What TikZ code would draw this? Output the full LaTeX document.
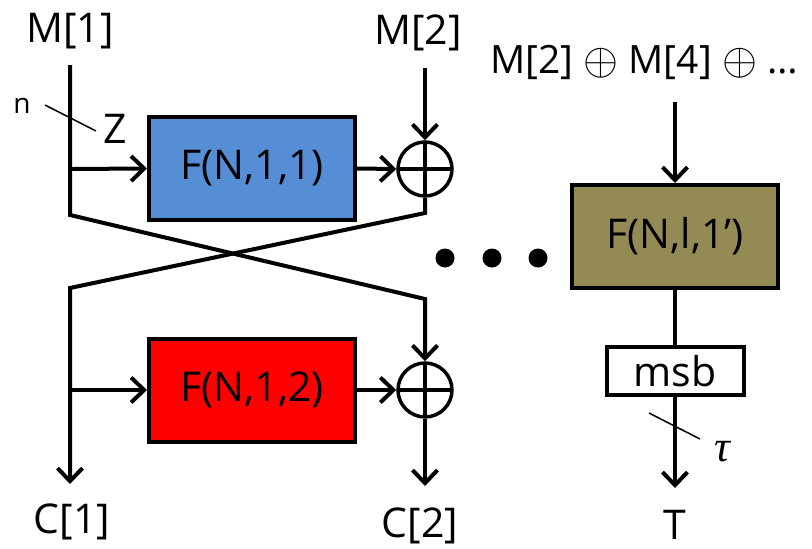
\documentclass[tikz,border=0pt]{standalone}
\usepackage{fontspec}
\usepackage{graphicx}
\setmainfont{Open Sans}
\newfontfamily\greekfont{Liberation Serif}
\usetikzlibrary{arrows.meta}
\newcommand\mybig{\fontsize{41}{48}\selectfont}
\newcommand\mymid{\fontsize{39}{46}\selectfont}
\newcommand\myxor{\raisebox{-1.5pt}{\scalebox{4.5}{\fontsize{10}{12}\selectfont$\oplus$}}}
\definecolor{fblue}{HTML}{558ED5}
\definecolor{fred}{HTML}{FF0000}
\definecolor{folive}{HTML}{948A54}
\begin{document}
\begin{tikzpicture}[x=1pt,y=-1pt,
  wire/.style={line width=4pt},
  arr/.style={wire,-{Straight Barb[length=13pt,width=25pt]}},
  fbox/.style={draw,line width=4pt,minimum width=206pt,minimum height=103pt,inner sep=0pt,font=\mybig},
  xorc/.style={circle,draw,line width=3.5pt,minimum size=54pt,inner sep=0pt,
    path picture={\draw[line width=3.5pt] (path picture bounding box.north)--(path picture bounding box.south)
      (path picture bounding box.west)--(path picture bounding box.east);}},
  lab/.style={inner sep=0pt,font=\mybig},
  slash/.style={line width=1.5pt},
  dot/.style={circle,fill,inner sep=0pt,minimum size=19pt}]
\useasboundingbox (0,0) rectangle (812,549);
% labels
\node[lab] (m1) at (70,31) {M[1]};
\node[lab] (m2) at (418,33) {M[2]};
\node[lab,font=\mymid] (m24) at (644,62) {M[2] \myxor{} M[4] \myxor{} \dots};
\node[lab] (c1) at (72,522) {C[1]};
\node[lab] (c2) at (420,526) {C[2]};
\node[lab] (t) at (675,525) {T};
\node[lab,font=\fontsize{28}{32}\selectfont] (n) at (22,106) {n};
\node[lab] (z) at (115,129) {Z};
\node[lab,font=\greekfont\itshape\fontsize{44}{48}\selectfont] (tau) at (722,452) {τ};
% boxes
\node[fbox,fill=fblue] (f11) at (252,168.5) {F(N,1,1)};
\node[fbox,fill=fred] (f12) at (252,390) {F(N,1,2)};
\node[fbox,fill=folive] (fl) at (675,236.5) {F(N,l,1\textquoteright)};
\node[draw,line width=4pt,minimum width=137pt,minimum height=48pt,inner sep=0pt,fill=white,font=\mybig] (msb) at (675,371) {msb};
\node[xorc] (x1) at (425,169) {};
\node[xorc] (x2) at (425,390) {};
\node[dot] (d1) at (445,258) {};
\node[dot] (d2) at (492,258) {};
\node[dot] (d3) at (538,258) {};
% coordinates
\coordinate (m1top) at (70,65);
\coordinate (m1bot) at (70,215);
\coordinate (m1br) at (70,169);
\coordinate (cr) at (425,299);
\coordinate (m2top) at (425,68);
\coordinate (x1bot) at (425,213);
\coordinate (cl) at (70,288);
\coordinate (c1end) at (70,484);
\coordinate (c1br) at (70,390);
\coordinate (c2end) at (425,486);
\coordinate (r0) at (675,102);
\coordinate (tend) at (675,488);
\coordinate (s1a) at (45,105);
\coordinate (s1b) at (96,131);
\coordinate (s2a) at (649,413);
\coordinate (s2b) at (700,439);
% wires
\draw[arr] (m1top) -- (m1bot) -- (cr) -- (x2.north);
\draw[arr] (m2top) -- (x1.north);
\draw[arr] (x1.south) -- (x1bot) -- (cl) -- (c1end);
\draw[arr] (m1br) -- (f11.west);
\draw[arr] (f11.east) -- (x1.west);
\draw[arr] (c1br) -- (f12.west);
\draw[arr] (f12.east) -- (x2.west);
\draw[arr] (x2.south) -- (c2end);
\draw[arr] (r0) -- (fl.north);
\draw[wire] (fl.south) -- (msb.north);
\draw[arr] (msb.south) -- (tend);
\draw[slash] (s1a) -- (s1b);
\draw[slash] (s2a) -- (s2b);
\end{tikzpicture}
\end{document}
